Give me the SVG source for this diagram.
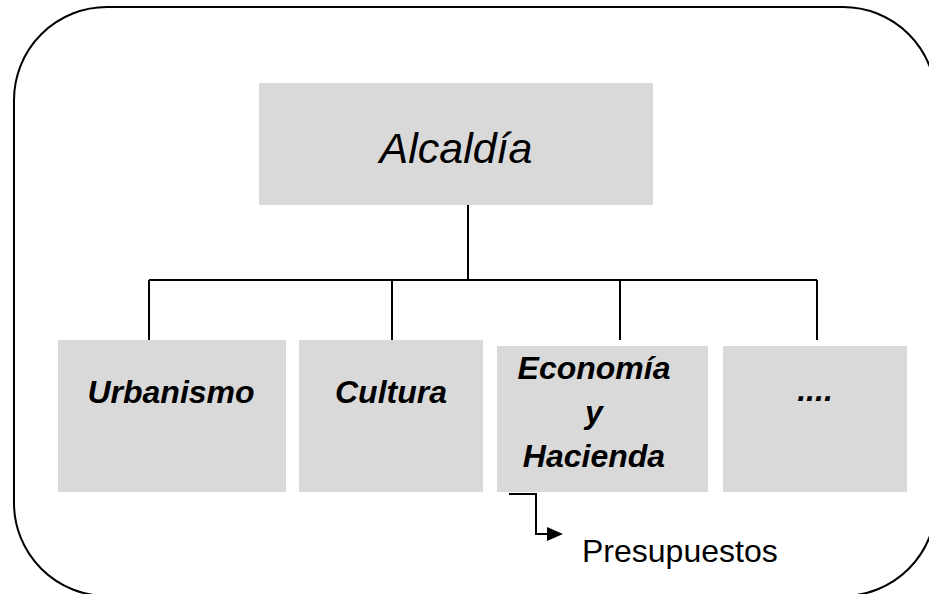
<svg xmlns="http://www.w3.org/2000/svg" width="929" height="594" viewBox="0 0 929 594">
<defs>
<style>
.box{fill:#d9d9d9;}
.ln{stroke:#000;stroke-width:2;fill:none;}
.t{font-family:"Liberation Sans",Arial,sans-serif;fill:#000;text-anchor:middle;}
.bi{font-weight:bold;font-style:italic;font-size:32px;}
</style>
<marker id="arr" viewBox="0 0 10 10" refX="10" refY="5" markerWidth="8" markerHeight="7" markerUnits="userSpaceOnUse" orient="auto" preserveAspectRatio="none">
<path d="M0,0 L10,5 L0,10 Z" fill="#000"/>
</marker>
</defs>
<rect width="929" height="594" fill="#fff"/>
<rect x="14" y="7" width="922" height="589" rx="93" ry="93" fill="none" stroke="#000" stroke-width="2"/>
<g id="connectors">
<path class="ln" d="M468,205 V280"/>
<path class="ln" d="M149,280 H817"/>
<path class="ln" d="M149,280 V340 M392,280 V340 M620,280 V340 M817,280 V340"/>
<path class="ln" d="M509,494 H536 V534 H548"/>
<path d="M547,527 L563,534 L547,541 Z" fill="#000"/>
</g>
<g id="alcaldia">
<rect class="box" x="259" y="83" width="394" height="122"/>
<text class="t" x="456" y="163" font-size="43" font-style="italic">Alcaldía</text>
</g>
<g id="urbanismo">
<rect class="box" x="58" y="340" width="228" height="152"/>
<text class="t bi" x="171" y="403">Urbanismo</text>
</g>
<g id="cultura">
<rect class="box" x="299" y="340" width="184" height="152"/>
<text class="t bi" x="391" y="403">Cultura</text>
</g>
<g id="economia">
<rect class="box" x="497" y="346" width="211" height="146"/>
<text class="t bi" x="594" y="379" font-size="31">Economía</text>
<text class="t bi" x="594" y="423" font-size="31">y</text>
<text class="t bi" x="594" y="467" font-size="31">Hacienda</text>
</g>
<g id="otros">
<rect class="box" x="723" y="346" width="184" height="146"/>
<text class="t bi" x="815" y="401">....</text>
</g>
<g id="presupuestos">
<text class="t" x="582" y="562" font-size="32" style="text-anchor:start">Presupuestos</text>
</g>
</svg>
